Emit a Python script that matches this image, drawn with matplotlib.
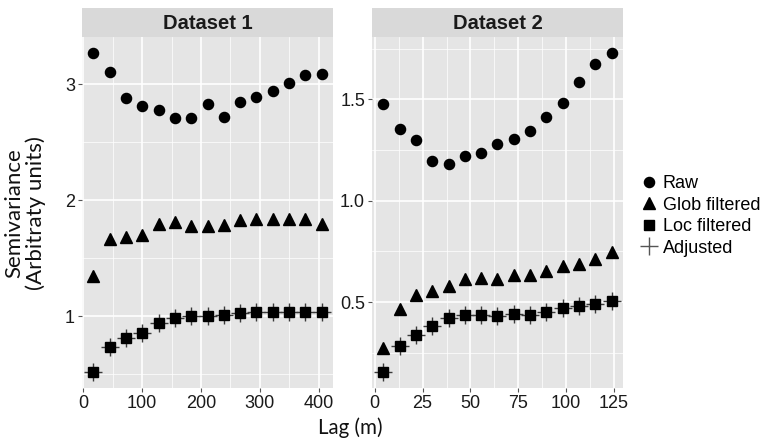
import matplotlib.pyplot as plt
from matplotlib.ticker import MultipleLocator
from matplotlib.lines import Line2D

# Dataset 1
lag1 = [17, 45, 72, 100, 128, 156, 183, 211, 239, 266, 294, 322, 349, 377, 405]
raw1 = [3.27, 3.11, 2.88, 2.81, 2.78, 2.71, 2.71, 2.83, 2.72, 2.85, 2.89, 2.94, 3.01, 3.08, 3.09]
glob1 = [1.35, 1.67, 1.68, 1.70, 1.80, 1.81, 1.78, 1.78, 1.79, 1.83, 1.84, 1.84, 1.84, 1.84, 1.80]
loc1 = [0.52, 0.74, 0.81, 0.86, 0.94, 0.99, 1.00, 1.00, 1.01, 1.03, 1.04, 1.04, 1.04, 1.04, 1.04]
adj1 = [0.52, 0.74, 0.81, 0.86, 0.94, 0.99, 1.00, 1.00, 1.01, 1.03, 1.04, 1.04, 1.04, 1.04, 1.04]

# Dataset 2
lag2 = [4.5, 13.0, 21.5, 30.1, 38.6, 47.1, 55.6, 64.1, 72.7, 81.2, 89.7, 98.2, 106.7, 115.3, 123.8]
raw2 = [1.475, 1.353, 1.30, 1.195, 1.183, 1.219, 1.237, 1.281, 1.307, 1.342, 1.413, 1.484, 1.587, 1.675, 1.729]
glob2 = [0.275, 0.466, 0.536, 0.555, 0.58, 0.616, 0.619, 0.616, 0.632, 0.632, 0.653, 0.678, 0.69, 0.714, 0.747]
loc2 = [0.155, 0.283, 0.34, 0.381, 0.42, 0.436, 0.436, 0.43, 0.441, 0.436, 0.45, 0.469, 0.479, 0.489, 0.505]
adj2 = [0.155, 0.283, 0.34, 0.381, 0.42, 0.436, 0.436, 0.43, 0.441, 0.436, 0.45, 0.469, 0.479, 0.489, 0.505]

titles = ["Dataset 1", "Dataset 2"]
labels = ["Raw", "Glob filtered", "Loc filtered", "Adjusted"]

tick_font = "Liberation Sans"
title_font = "Lato"


def expand(vals):
    lo, hi = min(vals), max(vals)
    pad = 0.05 * (hi - lo)
    return lo - pad, hi + pad


def panel(ax, lag, raw, glob, loc, adj, xmaj, ymaj):
    ax.set_facecolor("#E5E5E5")
    for s in ax.spines.values():
        s.set_visible(False)
    ax.plot(lag, adj, ls="none", marker="+", ms=13, mew=1.0, color="#3a3a3a", zorder=3)
    ax.plot(lag, raw, ls="none", marker="o", ms=7.3, color="black", zorder=4)
    ax.plot(lag, glob, ls="none", marker="^", ms=8.3, color="black", zorder=4)
    ax.plot(lag, loc, ls="none", marker="s", ms=7.3, color="black", zorder=4)
    ax.set_xlim(expand(lag))
    ax.set_ylim(expand(raw + glob + loc + adj))
    ax.xaxis.set_major_locator(MultipleLocator(xmaj))
    ax.xaxis.set_minor_locator(MultipleLocator(xmaj / 2))
    ax.yaxis.set_major_locator(MultipleLocator(ymaj))
    ax.yaxis.set_minor_locator(MultipleLocator(ymaj / 2))
    ax.grid(which="major", color="white", lw=1.2)
    ax.grid(which="minor", color="white", lw=0.5)
    ax.set_axisbelow(True)
    ax.tick_params(which="major", direction="out", length=3, width=0.8, color="#555555",
                   labelsize=13, labelcolor="#1a1a1a", pad=2)
    ax.tick_params(which="minor", length=0)
    for t in ax.get_xticklabels() + ax.get_yticklabels():
        t.set_fontfamily(tick_font)


fig = plt.figure(figsize=(7.67, 4.45), dpi=100)

W, H = 767, 445
lefts = [82, 372]
pw = 251
top, bottom = 37, 388

data = [(lag1, raw1, glob1, loc1, adj1, 100, 1),
        (lag2, raw2, glob2, loc2, adj2, 25, 0.5)]

for i, (lag, raw, glob, loc, adj, xm, ym) in enumerate(data):
    ax = fig.add_axes([lefts[i] / W, 1 - bottom / H, pw / W, (bottom - top) / H])
    panel(ax, lag, raw, glob, loc, adj, xm, ym)
    # strip
    sax = fig.add_axes([lefts[i] / W, 1 - top / H, pw / W, 29 / H])
    sax.set_facecolor("#D9D9D9")
    sax.set_xticks([])
    sax.set_yticks([])
    for s in sax.spines.values():
        s.set_visible(False)
    sax.text(0.5, 0.45, titles[i], ha="center", va="center", fontsize=14.5,
             fontweight="bold", color="#1a1a1a", family=tick_font, transform=sax.transAxes)

fig.text(350 / W, 1 - 428 / H, "Lag (m)", ha="center", va="center",
         fontsize=14.8, family=title_font, color="#111111")
fig.text(25 / W, 1 - 213 / H, "Semivariance\n(Arbitraty units)", ha="center", va="center",
         rotation=90, fontsize=16, family=title_font, color="#111111", linespacing=1.05)

handles = [
    Line2D([], [], ls="none", marker="o", ms=7.3, color="black"),
    Line2D([], [], ls="none", marker="^", ms=8.3, color="black"),
    Line2D([], [], ls="none", marker="s", ms=7.3, color="black"),
    Line2D([], [], ls="none", marker="+", ms=13, mew=1.0, color="#555555"),
]
leg = fig.legend(handles, labels, loc="center left", bbox_to_anchor=(631 / W, 1 - 216 / H),
                 frameon=False, handlelength=1.0, handletextpad=0.25, labelspacing=0.25,
                 borderpad=0, prop={"family": tick_font, "size": 13})

fig.savefig("out.png", dpi=100)
